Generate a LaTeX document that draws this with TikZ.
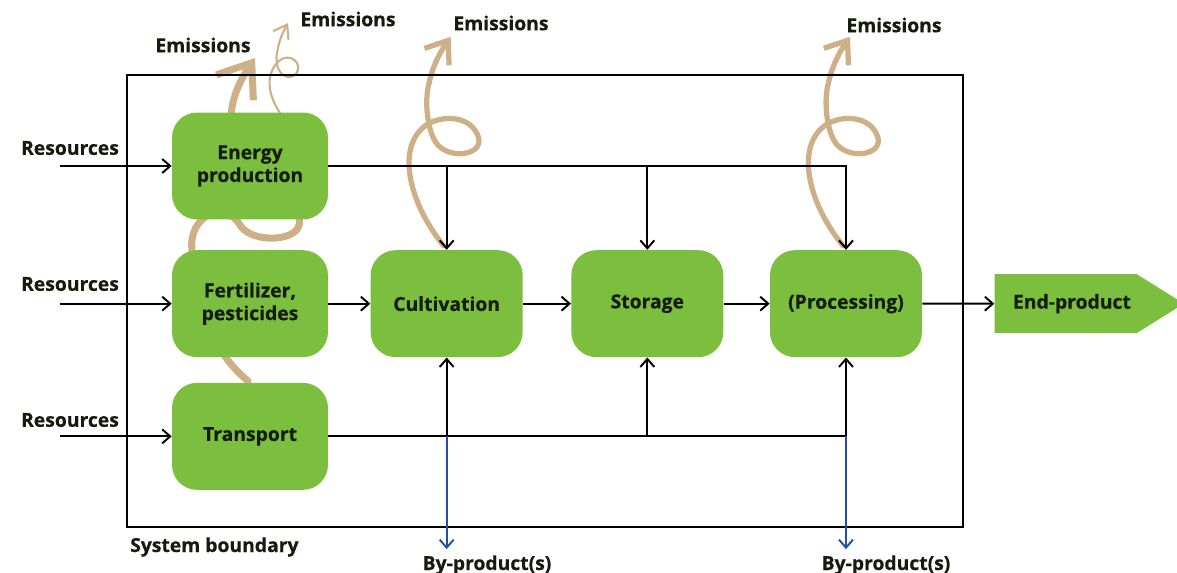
\documentclass[tikz,border=0pt]{standalone}
\usepackage{fontspec}
\setmainfont{Open Sans}[BoldFeatures={FakeBold=0.5}]
\usetikzlibrary{arrows.meta, positioning, backgrounds, shapes.symbols}
\definecolor{leaf}{RGB}{124,190,62}
\definecolor{smoke}{RGB}{206,176,136}
\definecolor{byblue}{RGB}{30,80,170}
\definecolor{ink}{RGB}{20,28,12}

\begin{document}
\begin{tikzpicture}[
    x=0.02cm, y=-0.02cm,
    node distance=0.6cm and 0.9cm,
    stage/.style={rounded corners=0.5cm, fill=leaf, minimum width=3.12cm, minimum height=2.14cm,
      align=center, inner sep=2pt, text=ink, font=\fontsize{11}{13}\selectfont\bfseries},
    endbox/.style={signal, signal to=east, signal pointer angle=64, fill=leaf, text=ink,
      minimum width=3.72cm, minimum height=1.18cm, font=\fontsize{11}{13}\selectfont\bfseries},
    lbl/.style={text=ink, font=\fontsize{11}{13}\selectfont\bfseries},
    flow/.style={-{Straight Barb[length=1.6mm, width=2.8mm]}, line width=1.1pt},
    byflow/.style={flow, draw=byblue},
    emis/.style={smoke, line width=3pt, line cap=round, -{Straight Barb[length=4mm, width=6mm]}},
]
\useasboundingbox (0,0) rectangle (1177,573);

% ===== System boundary =====
\node[draw, line width=1.1pt, minimum width=16.72cm, minimum height=9.04cm, inner sep=0pt] (boundary) at (545,301) {};
\node[lbl, anchor=west] (sysb) at (124,547) {System boundary};

% ===== Stages =====
\node[stage] (energy) at (250,166) {Energy\\production};
\node[stage, below=0.6cm of energy] (fert) {Fertilizer,\\pesticides};
\node[stage, below=0.5cm of fert] (transport) {Transport};
\node[stage, minimum width=3.04cm, right=0.84cm of fert] (cult) {Cultivation};
\node[stage, minimum width=3.04cm, right=0.96cm of cult] (store) {Storage};
\node[stage, minimum width=3.04cm, right=0.92cm of store] (proc) {(Processing)};
\node[endbox, right=1.44cm of proc] (endp) {\hspace{0.25cm}End-product};

% ===== Resource inputs =====
\foreach \s/\y in {energy/148, fert/284, transport/420}{
  \node[lbl] (res-\s) at (70,\y) {Resources};
  \coordinate (in-\s) at ([xshift=-2.24cm]\s.west);
  \draw[flow] (in-\s) -- (\s.west);
}

% ===== Main chain =====
\draw[flow] (fert) -- (cult);
\draw[flow] (cult) -- (store);
\draw[flow] (store) -- (proc);
\draw[flow] (proc) -- (endp);

% energy feeds every stage from above
\draw[flow] (energy.east) -| (proc.north);
\draw[flow] (cult.north |- energy.east) -- (cult.north);
\draw[flow] (store.north |- energy.east) -- (store.north);

% transport feeds every stage from below
\draw[flow] (transport.east) -| (proc.south);
\draw[flow] (cult.south |- transport.east) -- (cult.south);
\draw[flow] (store.south |- transport.east) -- (store.south);

% ===== By-products =====
\node[lbl] (byp-cult) at (487,565) {By-product(s)};
\node[lbl] (byp-proc) at (886,565) {By-product(s)};
\draw[byflow] (cult.south |- transport.east) -- (cult.south |- byp-cult.north);
\draw[byflow] (proc.south |- transport.east) -- (proc.south |- byp-proc.north);

% ===== Emissions =====
\node[lbl] (em-energy) at (203,45) {Emissions};
\node[lbl] (em-gas) at (348,19) {Emissions};
\node[lbl] (em-cult) at (501,23) {Emissions};
\node[lbl] (em-proc) at (894,25) {Emissions};

\begin{scope}[on background layer]
  % curly plumes above cultivation and processing
  \foreach \s in {cult, proc}{
    \begin{scope}[shift={(\s.north)}]
      \draw[emis] (-3,-4) .. controls (-40,-50) and (-50,-105) .. (-20,-125)
        .. controls (-5,-135) and (25,-135) .. (32,-112)
        .. controls (36,-95) and (5,-90) .. (-9,-105)
        .. controls (-20,-118) and (-22,-150) .. (-18,-165)
        .. controls (-14,-185) and (-5,-200) .. (4,-213);
    \end{scope}
  }
  % big plume winding up behind the left column
  \draw[emis, line width=4pt, -{Straight Barb[length=6mm, width=9mm]}]
    (248,381) .. controls (225,362) and (200,330) .. (192,250)
    .. controls (188,215) and (225,200) .. (240,225)
    .. controls (250,242) and (290,242) .. (298,228)
    .. controls (310,205) and (250,160) .. (232,125)
    .. controls (228,105) and (240,80) .. (255,58);
  % thin plume from energy production
  \draw[emis, line width=1.2pt, -{Straight Barb[length=2.5mm, width=3.5mm]}]
    (280,113) .. controls (268,95) and (265,75) .. (278,62)
    .. controls (290,50) and (305,65) .. (295,75)
    .. controls (285,82) and (272,70) .. (278,48)
    .. controls (280,38) and (284,30) .. (288,23);
\end{scope}

\end{tikzpicture}
\end{document}
